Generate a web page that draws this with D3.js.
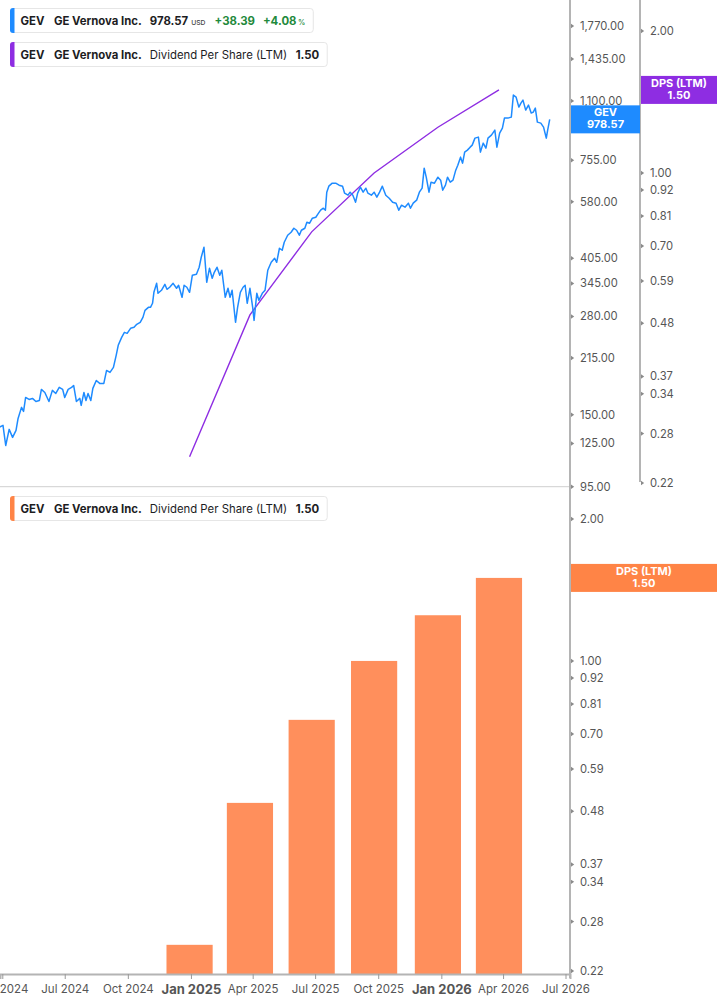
<!DOCTYPE html>
<html>
<head>
<meta charset="utf-8">
<script src="https://cdn.jsdelivr.net/npm/d3@7"></script>
<style>
html,body{margin:0;padding:0;background:#fff;}
svg{display:block;font-family:Inter,"Noto Sans",sans-serif;}
</style>
</head>
<body>
<svg id="chart" width="717" height="1005"></svg>
<script>
// ---------- DATA ----------
const priceDates = ["2024-03-28","2024-04-02","2024-04-06","2024-04-11","2024-04-16","2024-04-21","2024-04-24","2024-04-29","2024-05-02","2024-05-05","2024-05-10","2024-05-15","2024-05-20","2024-05-25","2024-05-28","2024-06-02","2024-06-08","2024-06-13","2024-06-18","2024-06-23","2024-06-28","2024-07-01","2024-07-06","2024-07-11","2024-07-14","2024-07-18","2024-07-23","2024-07-25","2024-07-29","2024-08-01","2024-08-04","2024-08-08","2024-08-11","2024-08-16","2024-08-21","2024-08-27","2024-08-31","2024-09-05","2024-09-10","2024-09-14","2024-09-17","2024-09-22","2024-09-26","2024-09-30","2024-10-05","2024-10-10","2024-10-14","2024-10-19","2024-10-23","2024-10-26","2024-10-31","2024-11-03","2024-11-06","2024-11-08","2024-11-12","2024-11-14","2024-11-19","2024-11-24","2024-11-27","2024-12-01","2024-12-06","2024-12-11","2024-12-14","2024-12-19","2024-12-22","2024-12-26","2024-12-30","2025-01-03","2025-01-09","2025-01-13","2025-01-16","2025-01-20","2025-01-24","2025-01-28","2025-02-01","2025-02-04","2025-02-08","2025-02-12","2025-02-15","2025-02-20","2025-02-24","2025-02-27","2025-03-02","2025-03-07","2025-03-10","2025-03-14","2025-03-18","2025-03-21","2025-03-24","2025-03-28","2025-04-01","2025-04-03","2025-04-07","2025-04-10","2025-04-15","2025-04-19","2025-04-23","2025-04-28","2025-05-03","2025-05-06","2025-05-10","2025-05-14","2025-05-17","2025-05-22","2025-05-27","2025-05-31","2025-06-04","2025-06-08","2025-06-11","2025-06-16","2025-06-19","2025-06-23","2025-06-27","2025-07-02","2025-07-05","2025-07-09","2025-07-13","2025-07-16","2025-07-18","2025-07-21","2025-07-26","2025-07-31","2025-08-05","2025-08-10","2025-08-13","2025-08-18","2025-08-21","2025-08-25","2025-08-29","2025-09-01","2025-09-05","2025-09-09","2025-09-13","2025-09-16","2025-09-21","2025-09-25","2025-09-29","2025-10-03","2025-10-07","2025-10-12","2025-10-17","2025-10-22","2025-10-27","2025-10-31","2025-11-04","2025-11-09","2025-11-14","2025-11-17","2025-11-21","2025-11-26","2025-11-30","2025-12-04","2025-12-07","2025-12-10","2025-12-14","2025-12-17","2025-12-22","2025-12-27","2025-12-31","2026-01-03","2026-01-07","2026-01-10","2026-01-14","2026-01-18","2026-01-22","2026-01-25","2026-01-29","2026-02-01","2026-02-04","2026-02-08","2026-02-12","2026-02-15","2026-02-19","2026-02-24","2026-02-27","2026-03-03","2026-03-07","2026-03-10","2026-03-15","2026-03-20","2026-03-23","2026-03-27","2026-03-31","2026-04-03","2026-04-08","2026-04-13","2026-04-16","2026-04-20","2026-04-24","2026-04-27","2026-04-30","2026-05-04","2026-05-08","2026-05-12","2026-05-15","2026-05-18","2026-05-21","2026-05-26","2026-05-30","2026-06-03","2026-06-05","2026-06-08"];
const priceValues = [138.7,140.2,123.4,136.7,129.9,135.8,146.5,157.2,153.2,167.4,165.3,166.4,163.2,164.2,176.2,172.8,163.2,175.1,171.7,178.5,176.2,167.4,176.2,178.5,180.7,163.2,166.4,159.2,172.8,164.2,171.7,164.2,177.3,186.5,183.0,183.0,198.7,196.3,202.6,218.7,233.1,245.2,253.1,251.5,259.7,261.3,266.4,269.8,278.4,291.0,296.7,296.7,304.4,326.3,345.5,324.3,330.6,343.4,332.7,337.0,345.5,334.8,341.3,316.2,341.3,337.0,326.3,363.6,365.9,382.6,407.7,434.4,347.8,380.1,356.7,370.6,382.6,363.6,375.4,316.2,334.8,316.2,330.6,269.8,296.7,326.3,337.0,341.3,304.4,334.8,296.7,273.1,324.3,310.2,324.3,330.6,375.4,394.9,405.1,394.9,431.7,426.2,448.5,468.9,477.9,490.2,484.0,468.9,484.0,490.2,509.3,506.1,522.4,525.7,535.9,549.7,556.7,549.7,616.3,640.2,652.5,652.5,644.3,640.2,612.4,604.6,616.3,604.6,578.3,612.4,636.1,616.3,632.1,612.4,604.6,616.3,597.0,616.3,640.2,604.6,593.2,578.3,574.7,549.7,567.4,560.2,574.7,556.7,574.7,585.8,616.3,632.1,717.8,677.9,616.3,656.6,652.5,677.9,665.1,624.1,644.3,677.9,656.6,665.1,708.7,731.6,769.8,741.0,794.6,804.9,820.3,830.8,868.6,874.1,794.6,841.4,815.1,868.6,885.3,913.9,820.3,896.7,925.6,986.3,986.3,992.6,1141.5,1127.1,1057.8,1085.0,1105.8,1037.8,1071.3,1018.2,1024.6,1051.0,961.4,955.4,931.5,868.6,913.9,978.57];

const dpsDates = ["2024-12-30","2025-03-28","2025-06-26","2025-09-25","2025-12-27","2026-03-26"];
const dpsValues = [0.25,0.50,0.75,1.00,1.25,1.50];

const priceTicks = [1770,1435,1100,935,755,580,405,345,280,215,150,125,95];
const dpsTicks = [2.00,1.00,0.92,0.81,0.70,0.59,0.48,0.37,0.34,0.28,0.22];
const xTickDates = ["2024-04-01","2024-07-01","2024-10-01","2025-01-01","2025-04-01","2025-07-01","2025-10-01","2026-01-01","2026-04-01","2026-07-01"];
const xTickLabels = ["Apr 2024","Jul 2024","Oct 2024","Jan 2025","Apr 2025","Jul 2025","Oct 2025","Jan 2026","Apr 2026","Jul 2026"];

const lastPrice = 978.57, priceChange = 38.39, pctChange = 4.08, lastDps = 1.50;

// ---------- SETUP ----------
const parse = d3.timeParse("%Y-%m-%d");
const svg = d3.select("#chart");
const C = {blue:"#1e8bff", purple:"#8e2de2", orange:"#ff8f5c", orangeBox:"#ff8446", axis:"#b4b4b4", tick:"#555", text:"#1d1d1f", green:"#1f8a3c"};

const plotRight = 570;
let x = d3.scaleTime().domain([parse("2024-04-01"), parse("2026-07-01")]).range([2.3, 565.5]);
x = x.copy().domain([x.invert(0), x.invert(plotRight)]).range([0, plotRight]);

const yPrice = d3.scaleLog().domain([95, 1770]).range([486.7, 26]);
const yDpsTop = d3.scaleLog().domain([0.22, 2.0]).range([483, 31]);
const yDpsBot = d3.scaleLog().domain([0.22, 2.0]).range([971, 519]);
const bottomY = 974;

const price = priceDates.map((d,i)=>({date:parse(d), v:priceValues[i]}));
const dps = dpsDates.map((d,i)=>({date:parse(d), v:dpsValues[i]}));

// ---------- PANEL LINES ----------
svg.append("line").attr("x1",0).attr("x2",plotRight).attr("y1",486.7).attr("y2",486.7)
  .attr("stroke","#cfcfcf").attr("stroke-width",1);

// ---------- TOP PANEL ----------
const gTop = svg.append("g");
gTop.append("path").datum(dps)
  .attr("fill","none").attr("stroke",C.purple).attr("stroke-width",1.4)
  .attr("d", d3.line().x(d=>x(d.date)).y(d=>yDpsTop(d.v)));
gTop.append("path").datum(price)
  .attr("fill","none").attr("stroke",C.blue).attr("stroke-width",1.5).attr("stroke-linejoin","round")
  .attr("d", d3.line().x(d=>x(d.date)).y(d=>yPrice(d.v)));

// ---------- BOTTOM PANEL (bars) ----------
const qStep = x(parse(dpsDates[1])) - x(parse(dpsDates[0]));
const barW = qStep * 0.765;
svg.append("g").selectAll("rect").data(dps).join("rect")
  .attr("x", d=>x(d.date)-barW/2)
  .attr("width", barW)
  .attr("y", d=>yDpsBot(d.v))
  .attr("height", d=>bottomY - yDpsBot(d.v))
  .attr("fill", C.orange);

// ---------- AXES ----------
function tri(g, ax, y){
  g.append("path").attr("d",`M${ax},${y-2.2}L${ax+3.2},${y}L${ax},${y+2.2}Z`).attr("fill","#8a8a8a");
}
function yAxis(scale, ticks, ax, fmt){
  const g = svg.append("g");
  ticks.forEach(t=>{
    const y = scale(t);
    tri(g, ax, y);
    g.append("text").attr("x",ax+9).attr("y",y).attr("dy","0.35em")
      .attr("font-size",11.2).attr("fill",C.tick).text(fmt(t));
  });
  return g;
}
svg.append("line").attr("x1",plotRight).attr("x2",plotRight).attr("y1",0).attr("y2",978)
  .attr("stroke",C.axis).attr("stroke-width",2);
svg.append("line").attr("x1",640).attr("x2",640).attr("y1",0).attr("y2",482)
  .attr("stroke",C.axis).attr("stroke-width",2);

const fmtPrice = d3.format(",.2f");
const fmtD = d3.format(".2f");
yAxis(yPrice, priceTicks, plotRight+1, fmtPrice);
yAxis(yDpsTop, dpsTicks, 641, fmtD);
yAxis(yDpsBot, dpsTicks, plotRight+1, fmtD);

// x axis
const xAxis = d3.axisBottom(x)
  .tickValues(xTickDates.map(parse))
  .tickSize(5)
  .tickFormat((d,i)=>xTickLabels[i]);
const gx = svg.append("g").attr("transform",`translate(0,${bottomY})`).call(xAxis);
gx.select(".domain").attr("stroke",C.axis).attr("stroke-width",2);
gx.selectAll(".tick line").attr("stroke","#999");
gx.selectAll(".tick text")
  .attr("fill",C.tick)
  .attr("font-family","Inter, sans-serif")
  .attr("y",11)
  .attr("font-size",(d,i)=>xTickLabels[i].startsWith("Jan")?13:11.5)
  .attr("font-weight",(d,i)=>xTickLabels[i].startsWith("Jan")?700:400);

// ---------- VALUE LABEL BOXES ----------
function valueBox(x0, x1, yc, fill, l1, l2){
  const h = 28;
  svg.append("rect").attr("x",x0).attr("y",yc-h/2).attr("width",x1-x0).attr("height",h).attr("fill",fill);
  const cx = (x0+x1)/2;
  svg.append("text").attr("x",cx).attr("y",yc-3).attr("text-anchor","middle")
    .attr("font-size",11).attr("font-weight",700).attr("fill","#fff").text(l1);
  svg.append("text").attr("x",cx).attr("y",yc+9).attr("text-anchor","middle")
    .attr("font-size",11).attr("font-weight",700).attr("fill","#fff").text(l2);
}
valueBox(571, 640, yPrice(lastPrice), C.blue, "GEV", fmtD(lastPrice));
valueBox(641, 717, yDpsTop(lastDps), C.purple, "DPS (LTM)", fmtD(lastDps));
valueBox(571, 717, yDpsBot(lastDps), C.orangeBox, "DPS (LTM)", fmtD(lastDps));

// ---------- LEGENDS ----------
// font size calibrated so "GE Vernova Inc." is about 88px wide, as in the reference
const probe = svg.append("text").attr("font-size",12).attr("font-weight",700).text("GE Vernova Inc.");
const legendFs = 12 * 88 / probe.node().getComputedTextLength();
probe.remove();

function legend(y0, color, parts){
  const g = svg.append("g");
  const box = g.append("rect").attr("x",10.5).attr("y",y0+0.5).attr("height",24).attr("rx",3)
    .attr("fill","#fff").attr("stroke","#e6e6e6");
  g.append("path").attr("d",`M13,${y0}h1.5v25h-1.5a3,3 0 0 1 -3,-3v-19a3,3 0 0 1 3,-3z`).attr("fill",color);
  let cx = 20.5;
  parts.forEach(p=>{
    cx += (p.gap||0);
    const t = g.append("text").attr("x",cx).attr("y",y0+17)
      .attr("font-size",legendFs*(p.scale||1)).attr("font-weight",p.w||700)
      .attr("fill",p.c||C.text).text(p.t);
    cx += t.node().getComputedTextLength();
  });
  box.attr("width", cx + 8 - 10.5);
}
legend(8, C.blue, [
  {t:"GEV"},
  {t:"GE Vernova Inc.", gap:9.5},
  {t:fmtD(lastPrice), gap:8},
  {t:"USD", gap:3, scale:0.6, w:500, c:"#444"},
  {t:"+"+fmtD(priceChange), gap:9, c:C.green},
  {t:"+"+fmtD(pctChange), gap:8, c:C.green},
  {t:"%", gap:1.5, scale:0.65, w:500, c:C.green}
]);
const dpsParts = [
  {t:"GEV"},
  {t:"GE Vernova Inc.", gap:9.5},
  {t:"Dividend Per Share (LTM)", gap:8, w:400},
  {t:fmtD(lastDps), gap:8.5}
];
legend(42, C.purple, dpsParts);
legend(496, C.orangeBox, dpsParts);
</script>
</body>
</html>
